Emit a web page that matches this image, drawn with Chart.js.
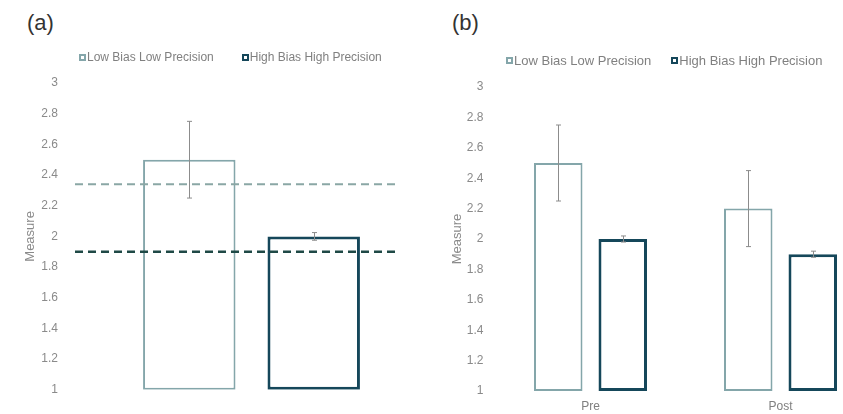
<!DOCTYPE html>
<html>
<head>
<meta charset="utf-8">
<title>Measure by bias and precision</title>
<script src="https://cdn.jsdelivr.net/npm/chart.js@4.4.1/dist/chart.umd.min.js"></script>
<style>
  body {
    margin: 0;
    width: 843px;
    height: 414px;
    overflow: hidden;
    position: relative;
    background: #fff;
    font-family: "Liberation Sans", Arial, sans-serif;
  }
  .panel { position: absolute; top: 0; height: 414px; }
  #panelA { left: 0; width: 430px; }
  #panelB { left: 420px; width: 460px; }
  .tag { position: absolute; top: 10px; font-size: 22px; line-height: 26px; color: #333; }
  .legend { position: absolute; display: flex; color: #808080; white-space: nowrap; }
  .legend .item { display: flex; align-items: center; }
  .legend i { display: inline-block; width: 7px; height: 7px; box-sizing: border-box; margin-right: 1px; }
</style>
</head>
<body>
<div class="tag" style="left:27px">(a)</div>
<div class="tag" style="left:452px">(b)</div>
<div class="panel" id="panelA"><canvas id="chartA"></canvas></div>
<div class="panel" id="panelB"><canvas id="chartB"></canvas></div>
<div class="legend" id="legendA" style="left:79px; top:50px; font-size:12px; line-height:14px; gap:28px"></div>
<div class="legend" id="legendB" style="left:506px; top:53px; font-size:13px; line-height:15px; gap:20px"></div>

<script>
// Series
const seriesNames = ['Low Bias Low Precision', 'High Bias High Precision'];

// Panel (a): single group with reference levels
const panelALabels = [''];
const panelALowBias = [2.5];
const panelALowBiasErr = [0.25];
const panelAHighBias = [2.0];
const panelAHighBiasErr = [0.025];
const refLevels = [2.34, 1.9];
const refSpan = [0, 0.912];

// Panel (b): pre / post
const panelBLabels = ['Pre', 'Post'];
const panelBLowBias = [2.5, 2.2];
const panelBLowBiasErr = [0.25, 0.25];
const panelBHighBias = [2.0, 1.9];
const panelBHighBiasErr = [0.02, 0.02];

// Value axis
const yMin = 1;
const yMax = 3;
const yStep = 0.2;

const lightColor = '#84a6aa';
const darkColor = '#15475a';
const refColors = ['#8aa7a5', '#1f4946'];
const refWidths = [2, 2.5];

Chart.defaults.font.family = '"Liberation Sans", Arial, sans-serif';

// Dashed reference levels, placed with the y scale and the hidden xRef scale
const refLines = {
    id: 'refLines',
    afterDatasetsDraw(chart, args, options) {
        if (!options.levels) return;
        const ctx = chart.ctx;
        const xs = chart.scales.xRef;
        const ys = chart.scales.y;
        const x0 = xs.getPixelForValue(options.span[0]);
        const x1 = xs.getPixelForValue(options.span[1]);
        options.levels.forEach((level, i) => {
            const y = ys.getPixelForValue(level);
            ctx.save();
            ctx.strokeStyle = options.colors[i];
            ctx.lineWidth = options.widths[i];
            ctx.setLineDash([8, 5]);
            ctx.beginPath();
            ctx.moveTo(x0, y);
            ctx.lineTo(x1, y);
            ctx.stroke();
            ctx.restore();
        });
    }
};

// Draw error bars from each dataset's "errors" list
const errorBars = {
    id: 'errorBars',
    afterDatasetsDraw(chart) {
        const ctx = chart.ctx;
        const yScale = chart.scales.y;
        chart.data.datasets.forEach((ds, i) => {
            if (!ds.errors) return;
            const meta = chart.getDatasetMeta(i);
            ctx.save();
            ctx.strokeStyle = '#8c8c8c';
            ctx.lineWidth = 1;
            meta.data.forEach((bar, j) => {
                const v = ds.data[j];
                const e = ds.errors[j];
                const top = yScale.getPixelForValue(v + e);
                const bottom = yScale.getPixelForValue(v - e);
                const x = Math.round(bar.x) + 0.5;
                ctx.beginPath();
                ctx.moveTo(x, top);
                ctx.lineTo(x, bottom);
                ctx.moveTo(x - 2.5, top);
                ctx.lineTo(x + 2.5, top);
                ctx.moveTo(x - 2.5, bottom);
                ctx.lineTo(x + 2.5, bottom);
                ctx.stroke();
            });
            ctx.restore();
        });
    }
};

// Legend rendered as HTML from the chart's own legend items
const htmlLegend = {
    id: 'htmlLegend',
    afterUpdate(chart, args, options) {
        const box = document.getElementById(options.containerID);
        box.innerHTML = '';
        const items = chart.options.plugins.legend.labels.generateLabels(chart);
        items.forEach(item => {
            const el = document.createElement('span');
            el.className = 'item';
            const mark = document.createElement('i');
            mark.style.border = '2px solid ' + item.strokeStyle;
            mark.style.background = item.fillStyle;
            el.appendChild(mark);
            el.appendChild(document.createTextNode(item.text));
            box.appendChild(el);
        });
    }
};

function barSet(label, data, errors, color, width, catPct, barPct) {
    return {
        label: label,
        data: data,
        errors: errors,
        base: yMin,
        backgroundColor: '#ffffff',
        borderColor: color,
        borderWidth: width,
        borderSkipped: false,
        categoryPercentage: catPct,
        barPercentage: barPct
    };
}

function valueAxis(width, tickPad, titlePad) {
    return {
        min: yMin,
        max: yMax,
        ticks: {
            stepSize: yStep,
            color: '#8a8a8a',
            font: { size: 12 },
            padding: tickPad,
            callback: value => String(+value.toFixed(1))
        },
        grid: { display: false, drawTicks: false },
        border: { display: false },
        title: {
            display: true,
            text: 'Measure',
            color: '#8a8a8a',
            font: { size: 13 },
            padding: { top: titlePad, bottom: 0 }
        },
        afterFit(scale) { scale.width = width; }
    };
}

// Panel (a)
new Chart(document.getElementById('chartA'), {
    type: 'bar',
    data: {
        labels: panelALabels,
        datasets: [
            barSet(seriesNames[0], panelALowBias, panelALowBiasErr, lightColor, 2, 0.705, 0.743),
            barSet(seriesNames[1], panelAHighBias, panelAHighBiasErr, darkColor, 3, 0.705, 0.743)
        ]
    },
    options: {
        responsive: true,
        maintainAspectRatio: false,
        animation: false,
        layout: { padding: { top: 83, right: 2, bottom: 23, left: 0 } },
        plugins: {
            legend: { display: false },
            tooltip: { enabled: false },
            htmlLegend: { containerID: 'legendA' },
            refLines: { levels: refLevels, span: refSpan, colors: refColors, widths: refWidths }
        },
        scales: {
            x: { display: false },
            xRef: { type: 'linear', display: false, offset: false, min: 0, max: 1 },
            y: valueAxis(75, 17, 23)
        }
    },
    plugins: [refLines, errorBars, htmlLegend]
});

// Panel (b)
new Chart(document.getElementById('chartB'), {
    type: 'bar',
    data: {
        labels: panelBLabels,
        datasets: [
            barSet(seriesNames[0], panelBLowBias, panelBLowBiasErr, lightColor, 2, 0.679, 0.752),
            barSet(seriesNames[1], panelBHighBias, panelBHighBiasErr, darkColor, 3, 0.679, 0.752)
        ]
    },
    options: {
        responsive: true,
        maintainAspectRatio: false,
        animation: false,
        layout: { padding: { top: 87, right: 4.5, bottom: 0, left: 0 } },
        plugins: {
            legend: { display: false },
            tooltip: { enabled: false },
            htmlLegend: { containerID: 'legendB' }
        },
        scales: {
            x: {
                grid: { display: false, drawTicks: false },
                border: { display: false },
                ticks: { color: '#808080', font: { size: 12 }, padding: 8 },
                afterFit(scale) { scale.height = 23; }
            },
            y: valueAxis(75.5, 12, 30)
        }
    },
    plugins: [errorBars, htmlLegend]
});
</script>
</body>
</html>
